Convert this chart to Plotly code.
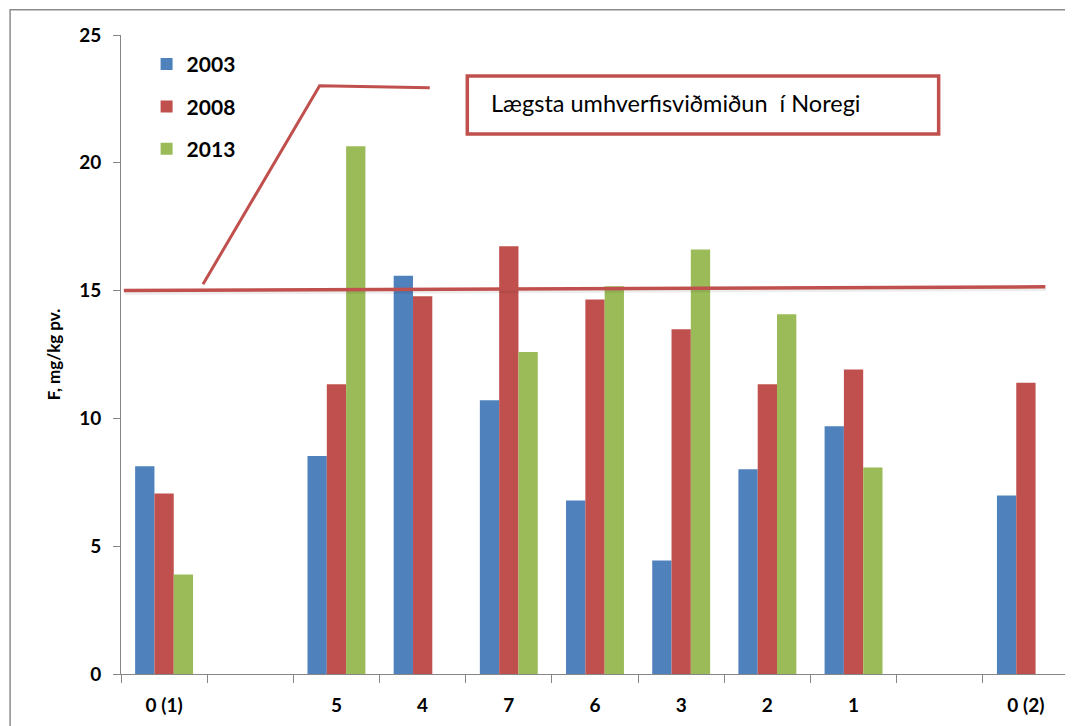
import plotly.graph_objects as go

categories = ["0 (1)", " ", "5", "4", "7", "6", "3", "2", "1", "  ", "0 (2)"]
series_names = ["2003", "2008", "2013"]
v2003 = [8.13, None, 8.53, 15.58, 10.71, 6.79, 4.44, 8.01, 9.69, None, 6.98]
v2008 = [7.06, None, 11.34, 14.78, 16.74, 14.65, 13.49, 11.34, 11.91, None, 11.39]
v2013 = [3.89, None, 20.65, None, 12.60, 15.17, 16.61, 14.07, 8.08, None, None]
colors = ["#4F81BD", "#C0504D", "#9BBB59"]
threshold = 15.0
threshold_label = "Lægsta umhverfisviðmiðun  í Noregi"
y_title = "F, mg/kg pv."

FONT = "Lato, 'Liberation Sans', Arial, sans-serif"
AX = "#868686"
RED = "#C0504D"

fig = go.Figure()
for i, (name, vals) in enumerate(zip(series_names, [v2003, v2008, v2013])):
    fig.add_trace(go.Bar(
        x=categories, y=vals, name=name, marker_color=colors[i],
        marker_line_width=0, legendgroup=name,
    ))

shapes = []
# outer chart border
shapes.append(dict(type="rect", xref="paper", yref="paper",
                   x0=-0.117, x1=1.02, y0=-0.12, y1=1.0395,
                   line=dict(color="#8C8C8C", width=1.5), layer="below"))
# threshold line shadow + line
shapes.append(dict(type="line", xref="paper", yref="y",
                   x0=0.004, x1=0.976, y0=threshold - 0.07, y1=threshold + 0.08,
                   line=dict(color="rgba(0,0,0,0.07)", width=5)))
shapes.append(dict(type="line", xref="paper", yref="y",
                   x0=0.003, x1=0.975, y0=threshold, y1=threshold + 0.15,
                   line=dict(color=RED, width=3.5)))
# callout connector
shapes.append(dict(type="path", xref="paper", yref="y",
                   path="M0.0865,15.25 L0.2095,23.01 L0.3257,22.94",
                   line=dict(color=RED, width=3)))
# text box
shapes.append(dict(type="rect", xref="paper", yref="y",
                   x0=0.3653, x1=0.8625, y0=21.13, y1=23.40,
                   line=dict(color=RED, width=3.5), fillcolor="white"))

fig.update_layout(
    width=1065, height=718,
    margin=dict(l=113, r=4, t=27, b=52, autoexpand=False),
    paper_bgcolor="white", plot_bgcolor="white",
    barmode="group", bargap=0.328, bargroupgap=0,
    font=dict(family=FONT, color="black"),
    showlegend=True,
    legend=dict(x=0.027, y=0.986, xanchor="left", yanchor="top",
                font=dict(size=21, family=FONT, color="black", weight="bold"),
                traceorder="grouped", tracegroupgap=12,
                bgcolor="rgba(0,0,0,0)"),
    shapes=shapes,
    annotations=[dict(xref="paper", yref="y", x=0.388, y=22.34,
                      xanchor="left", yanchor="middle", showarrow=False,
                      text=threshold_label,
                      font=dict(size=23.5, family=FONT, color="black"))],
)
fig.update_xaxes(
    type="category", categoryorder="array", categoryarray=categories,
    showline=True, linecolor=AX, linewidth=1,
    ticks="outside", tickson="boundaries", ticklen=8, tickcolor=AX,
    tickfont=dict(size=19, family=FONT, color="black", weight="bold"),
    ticklabelstandoff=14, automargin=False,
    showgrid=False, zeroline=False,
)
fig.update_yaxes(
    range=[0, 25], dtick=5, tick0=0,
    showline=True, linecolor=AX, linewidth=1,
    ticks="outside", ticklen=7, tickcolor=AX,
    tickfont=dict(size=19, family=FONT, color="black", weight="bold"),
    ticklabelstandoff=8, automargin=False,
    showgrid=False, zeroline=False,
    title=dict(text=y_title, standoff=14,
               font=dict(size=17, family=FONT, color="black", weight="bold")),
)

fig.write_html("out.html")
